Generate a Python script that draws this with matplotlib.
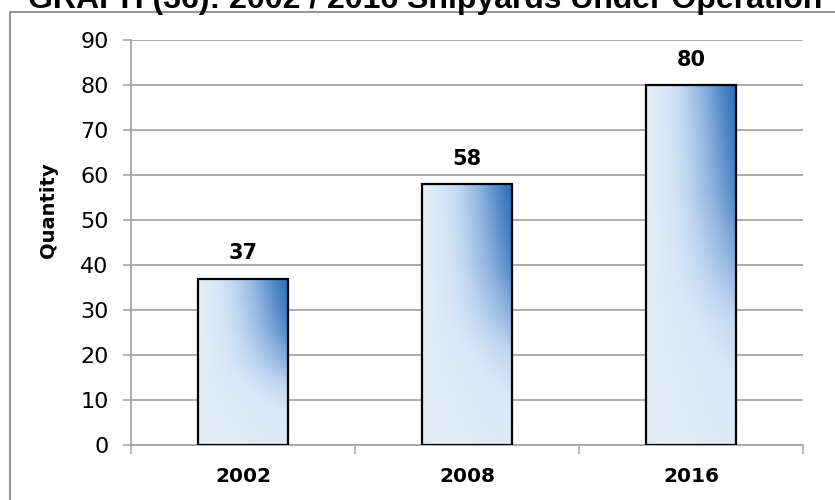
import numpy as np
import matplotlib
matplotlib.use('Agg')
import matplotlib.pyplot as plt
from matplotlib.colors import LinearSegmentedColormap
from matplotlib.patches import Rectangle

years = ['2002', '2008', '2016']
shipyards = [37, 58, 80]
y_ticks = list(range(0, 100, 10))

title = 'GRAPH (36): 2002 / 2016 Shipyards Under Operation'
y_label = 'Quantity'

GRID = '#a6a6a6'
FRAME = '#8c8c8c'
BAR_WIDTH = 0.405

# pale blue fill that darkens towards the upper right corner of each bar
bar_cmap = LinearSegmentedColormap.from_list('bar_fill', [
    (0.00, '#e3edf9'),
    (0.15, '#d8e6f7'),
    (0.30, '#c2d8f2'),
    (0.55, '#8fb3df'),
    (0.80, '#4f87c6'),
    (1.00, '#2a6ab3'),
])

plt.rcParams['font.family'] = ['DejaVu Sans']

fig = plt.figure(figsize=(8.35, 5.0), dpi=100)
ax = fig.add_axes([131 / 835, 55 / 500, 672 / 835, 405 / 500])

# outer chart frame, running off the right and bottom edges
fig.patches.append(Rectangle((10 / 835, -0.1), 1.2, 0.1 + 488 / 500,
                             transform=fig.transFigure, fill=False,
                             edgecolor=FRAME, linewidth=1.3, zorder=0))

fig.text(28 / 835, (500 - 8) / 500, title, fontsize=23, fontweight='bold',
         family='Liberation Sans', ha='left', va='baseline')

# per-bar shading level: horizontal ramp times a vertical ramp
gx, gy = np.meshgrid(np.linspace(0, 1, 240), np.linspace(0, 1, 240))
fx = np.clip(gx, 0, 1) ** 1.25
fy = np.interp(gy, [0, 0.2, 0.35, 0.5, 0.7, 1.0],
               [0.08, 0.16, 0.32, 0.58, 0.82, 1.0])
fill = fx * fy

for i, value in enumerate(shipyards):
    x0 = i - BAR_WIDTH / 2
    bar = Rectangle((x0, 0), BAR_WIDTH, value, facecolor='none',
                    edgecolor='black', linewidth=1.6, zorder=4)
    ax.add_patch(bar)
    im = ax.imshow(fill, cmap=bar_cmap, vmin=0, vmax=1, origin='lower',
                   extent=(x0, x0 + BAR_WIDTH, 0, value), aspect='auto',
                   interpolation='bilinear', zorder=3)
    im.set_clip_path(bar)
    ax.annotate(str(value), (i, value), xytext=(0, 13.7),
                textcoords='offset points', ha='center', va='baseline',
                fontsize=15, fontweight='bold')

ax.set_xlim(-0.5, len(years) - 0.5)
ax.set_ylim(0, 90)
ax.set_yticks(y_ticks)
ax.set_xticks(range(len(years)))
ax.set_xticklabels(years, fontweight='bold', fontsize=14.5)
ax.set_xticks(np.arange(-0.5, len(years)), minor=True)
ax.tick_params(axis='x', which='major', length=0, pad=16)
ax.tick_params(axis='x', which='minor', length=6.5, width=1.2, color=GRID)
ax.tick_params(axis='y', length=6, width=1.2, color=GRID, pad=10,
               labelsize=16)

ax.grid(axis='y', color=GRID, linewidth=1.3, zorder=0)
ax.set_axisbelow(True)
for side in ('top', 'right'):
    ax.spines[side].set_visible(False)
for side in ('left', 'bottom'):
    ax.spines[side].set_color(GRID)
    ax.spines[side].set_linewidth(1.3)

ax.set_ylabel(y_label, fontsize=14, fontweight='bold', va='center')
ax.yaxis.set_label_coords(-0.1235, 0.58)

fig.savefig('out.png', dpi=100)
